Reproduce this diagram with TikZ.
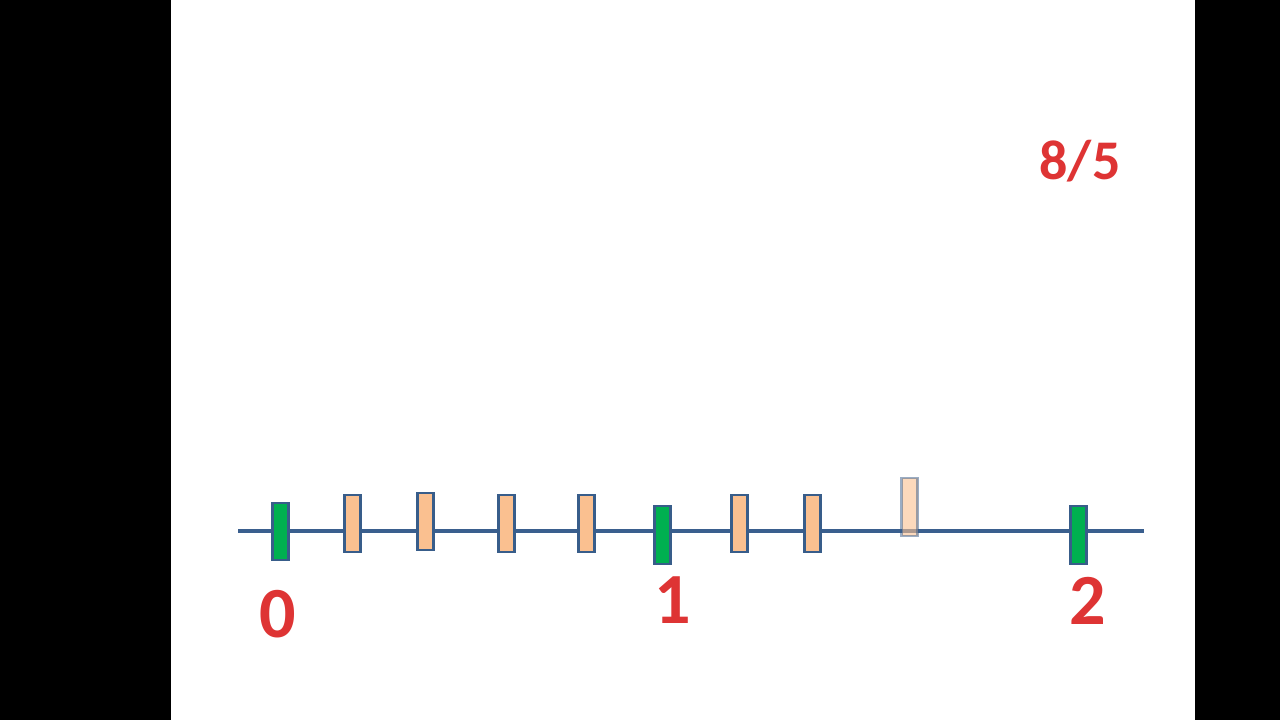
\documentclass[tikz,border=0pt]{standalone}
\usepackage{fontspec}
\setmainfont{Carlito}
\definecolor{axisblue}{RGB}{58,95,142}
\definecolor{tickborder}{RGB}{56,93,138}
\definecolor{tickgreen}{RGB}{0,176,80}
\definecolor{tickorange}{RGB}{250,192,144}
\definecolor{numred}{RGB}{222,52,52}
\tikzset{
  greentick/.style={draw=tickborder, fill=tickgreen, line width=1.6pt, rectangle, inner sep=0pt, minimum width=12pt, minimum height=43pt},
  orangetick/.style={draw=tickborder, fill=tickorange, line width=1.6pt, rectangle, inner sep=0pt, minimum width=12pt, minimum height=43pt},
  fadedtick/.style={orangetick, draw opacity=0.5, fill opacity=0.6},
  axisline/.style={draw=axisblue, line width=3pt},
  numlabel/.style={text=numred, font=\bfseries\fontsize{54}{60}\selectfont, inner sep=0pt},
  fraclabel/.style={text=numred, font=\bfseries\fontsize{42}{48}\selectfont, inner sep=0pt}
}
\begin{document}
\begin{tikzpicture}[x=0.75pt,y=-0.75pt]
\useasboundingbox (0,0) rectangle (1280,720);
\fill[white] (0,0) rectangle (1280,720);
\fill[black] (0,0) rectangle (171,720);
\fill[black] (1195,0) rectangle (1280,720);
% axis
\coordinate (axstart) at (238,531);
\coordinate (axend) at (1144,531);
\draw[axisline] (axstart) -- (axend);
% ticks
\node[greentick] (g0) at (280.5,531.5) {};
\node[orangetick] (o1) at (352.5,523.5) {};
\node[orangetick] (o2) at (425.5,521.5) {};
\node[orangetick] (o3) at (506.5,523.5) {};
\node[orangetick] (o4) at (586.5,523.5) {};
\node[greentick] (g1) at (662.5,535) {};
\node[orangetick] (o6) at (739.5,523.5) {};
\node[orangetick] (o7) at (812.5,523.5) {};
\node[fadedtick] (o8) at (909.5,507) {};
\node[greentick] (g2) at (1078.5,535) {};
% labels
\node[numlabel] (l0) at (278,614) {0};
\node[numlabel] (l1) at (673,600) {1};
\node[numlabel] (l2) at (1088,601) {2};
\node[fraclabel] (frac) at (1080,161) {8/5};
\end{tikzpicture}
\end{document}
